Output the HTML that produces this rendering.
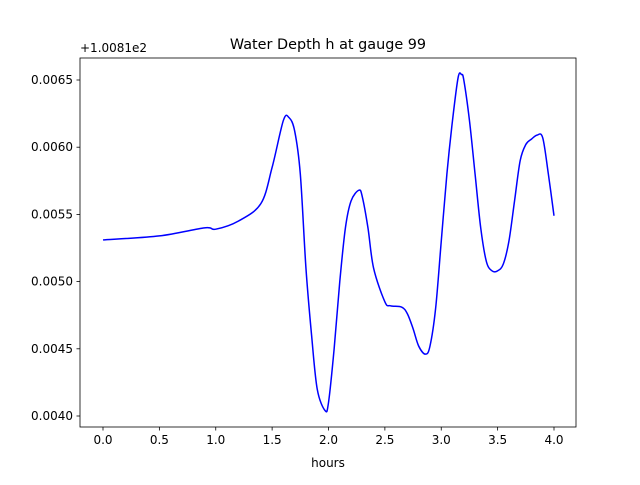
<!DOCTYPE html>
<html><head><meta charset="utf-8"><style>
body{margin:0;background:#fff}
svg text{font-family:"DejaVu Sans","Liberation Sans",sans-serif;font-size:12px;fill:#000}
</style></head><body>
<svg width="640" height="480">
<rect x="0" y="0" width="640" height="480" fill="#fff"/>
<g id="plot"></g>
</svg>
<script>
const times=[0,0.5,0.9,1.0,1.2,1.4,1.5,1.6,1.65,1.7,1.75,1.8,1.85,1.9,1.97,2.0,2.05,2.1,2.15,2.2,2.27,2.3,2.35,2.4,2.5,2.55,2.65,2.7,2.75,2.8,2.86,2.9,2.95,3.0,3.05,3.1,3.15,3.18,3.2,3.25,3.3,3.35,3.4,3.45,3.5,3.55,3.6,3.65,3.7,3.75,3.8,3.85,3.9,3.95,4.0];
const depth=[0.00531,0.00534,0.00540,0.00539,0.00545,0.00558,0.00585,0.00620,0.00622,0.00612,0.0058,0.0051,0.0046,0.00420,0.00404,0.00410,0.0045,0.0050,0.0054,0.00560,0.00568,0.00563,0.0054,0.0051,0.00485,0.00482,0.00481,0.00476,0.00465,0.00452,0.00446,0.00452,0.0048,0.0053,0.0058,0.0062,0.00652,0.00654,0.0065,0.0062,0.0058,0.0054,0.00515,0.00508,0.00508,0.00513,0.0053,0.0056,0.0059,0.00602,0.00606,0.00609,0.00607,0.0058,0.00549];
const xTicks=[0,0.5,1,1.5,2,2.5,3,3.5,4];
const xTickLabels=["0.0","0.5","1.0","1.5","2.0","2.5","3.0","3.5","4.0"];
const yTicks=[0.0040,0.0045,0.0050,0.0055,0.0060,0.0065];
const yTickLabels=["0.0040","0.0045","0.0050","0.0055","0.0060","0.0065"];
const L=80,R=576,T=58,B=427;
const sx=v=>103+v*112.75;
const sy=v=>416-(v-0.0040)/0.0005*67.2;
const g=document.getElementById('plot');
const NS='http://www.w3.org/2000/svg';
function mk(tag,attrs,txt){const e=document.createElementNS(NS,tag);for(const k in attrs)e.setAttribute(k,attrs[k]);if(txt!==undefined)e.textContent=txt;g.appendChild(e);return e;}
// line
const P=times.map((t,i)=>[sx(t),sy(depth[i])]);
let d='M'+P[0][0]+','+P[0][1];
for(let i=0;i<P.length-1;i++){const p0=P[Math.max(0,i-1)],p1=P[i],p2=P[i+1],p3=P[Math.min(P.length-1,i+2)];
const c1=[p1[0]+(p2[0]-p0[0])/6,p1[1]+(p2[1]-p0[1])/6],c2=[p2[0]-(p3[0]-p1[0])/6,p2[1]-(p3[1]-p1[1])/6];
d+=` C${c1[0]},${c1[1]} ${c2[0]},${c2[1]} ${p2[0]},${p2[1]}`;}
let line=mk('path',{d:d,fill:'none',stroke:'#0000ff','stroke-width':1.5});


let frame=mk('rect',{x:L,y:T,width:R-L,height:B-T,fill:'none',stroke:'#000','stroke-width':0.8});


xTicks.forEach((v,i)=>{const x=sx(v);
mk('line',{x1:x,x2:x,y1:B,y2:B+3.5,stroke:'#000','stroke-width':0.8});
let t=mk('text',{x:x,y:B+17,'text-anchor':'middle'},xTickLabels[i]);

});
yTicks.forEach((v,i)=>{const y=sy(v);
mk('line',{x1:L-3.5,x2:L,y1:y,y2:y,stroke:'#000','stroke-width':0.8});
let t=mk('text',{x:L-7,y:y+4,'text-anchor':'end'},yTickLabels[i]);

});
let off=mk('text',{x:80,y:52},'+1.0081e2');


let ti=mk('text',{x:328,y:49,'text-anchor':'middle',style:'font-size:14.4px'},'Water Depth h at gauge 99');


let xl=mk('text',{x:328,y:467,'text-anchor':'middle'},'hours');


</script>
</body></html>
